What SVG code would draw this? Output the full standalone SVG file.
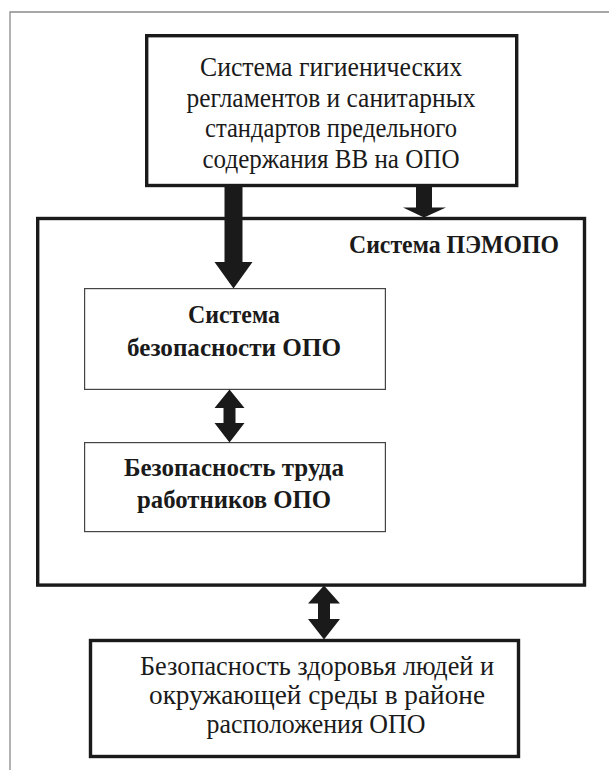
<svg xmlns="http://www.w3.org/2000/svg" width="609" height="770" viewBox="0 0 609 770">
<style>
.frame{fill:none;stroke:#8a8a8a;stroke-width:1.3}
.thick{fill:#fff;stroke:#1a1a1a;stroke-width:3.4}
.outer{fill:none;stroke:#1a1a1a;stroke-width:3.4}
.thin{fill:#fff;stroke:#444;stroke-width:1.2}
.arr{fill:#1a1a1a;stroke:none}
.t{font-family:"Liberation Serif",serif;font-size:27.5px;fill:#1a1a1a;text-anchor:middle}
.b{font-family:"Liberation Serif",serif;font-size:25.5px;font-weight:bold;fill:#1a1a1a;text-anchor:middle}
</style>
<rect width="609" height="770" fill="#fff"/>
<path class="frame" d="M10,770 V12 H609"/>
<g id="pemopo">
<rect class="outer" x="37.7" y="218.5" width="546.8" height="366.6"/>
<text class="b" x="559" y="253" style="text-anchor:end" textLength="210" lengthAdjust="spacingAndGlyphs">Система ПЭМОПО</text>
</g>
<g id="hygiene">
<rect class="thick" x="146.7" y="35.7" width="370" height="149.8"/>
<text class="t" x="331" y="76" textLength="262" lengthAdjust="spacingAndGlyphs">Система гигиенических</text>
<text class="t" x="331" y="106.5" textLength="289" lengthAdjust="spacingAndGlyphs">регламентов и санитарных</text>
<text class="t" x="331" y="137" textLength="252" lengthAdjust="spacingAndGlyphs">стандартов предельного</text>
<text class="t" x="331" y="167.5" textLength="257" lengthAdjust="spacingAndGlyphs">содержания ВВ на ОПО</text>
</g>
<g id="safety">
<rect class="thin" x="84.6" y="288.6" width="300.8" height="100.8"/>
<text class="b" x="234" y="323" textLength="92" lengthAdjust="spacingAndGlyphs">Система</text>
<text class="b" x="234" y="355.5" textLength="214" lengthAdjust="spacingAndGlyphs">безопасности ОПО</text>
</g>
<g id="labor">
<rect class="thin" x="84.6" y="442.6" width="300.8" height="89"/>
<text class="b" x="234" y="476" textLength="220" lengthAdjust="spacingAndGlyphs">Безопасность труда</text>
<text class="b" x="234" y="508" textLength="194" lengthAdjust="spacingAndGlyphs">работников ОПО</text>
</g>
<g id="health">
<rect class="thick" x="90.5" y="640.5" width="428" height="116"/>
<text class="t" x="317" y="675" textLength="354" lengthAdjust="spacingAndGlyphs">Безопасность здоровья людей и</text>
<text class="t" x="317" y="704" textLength="336" lengthAdjust="spacingAndGlyphs">окружающей среды в районе</text>
<text class="t" x="316" y="733" textLength="219" lengthAdjust="spacingAndGlyphs">расположения ОПО</text>
</g>
<g id="connectors">
<polygon class="arr" points="224.5,187 242.5,187 242.5,262 252.5,262 233.5,288.5 214.5,262 224.5,262"/>
<polygon class="arr" points="416,187 432,187 432,207.5 446,207.5 424,217.5 403,207.5 416,207.5"/>
<polygon class="arr" points="229.5,389.5 244.5,408 235.5,408 235.5,423 244.5,423 229.5,442.5 214.5,423 223.5,423 223.5,408 214.5,408"/>
<polygon class="arr" points="324,585.5 340,603.5 330,603.5 330,619 340,619 324,639.5 308,619 318,619 318,603.5 308,603.5"/>
</g>
</svg>
